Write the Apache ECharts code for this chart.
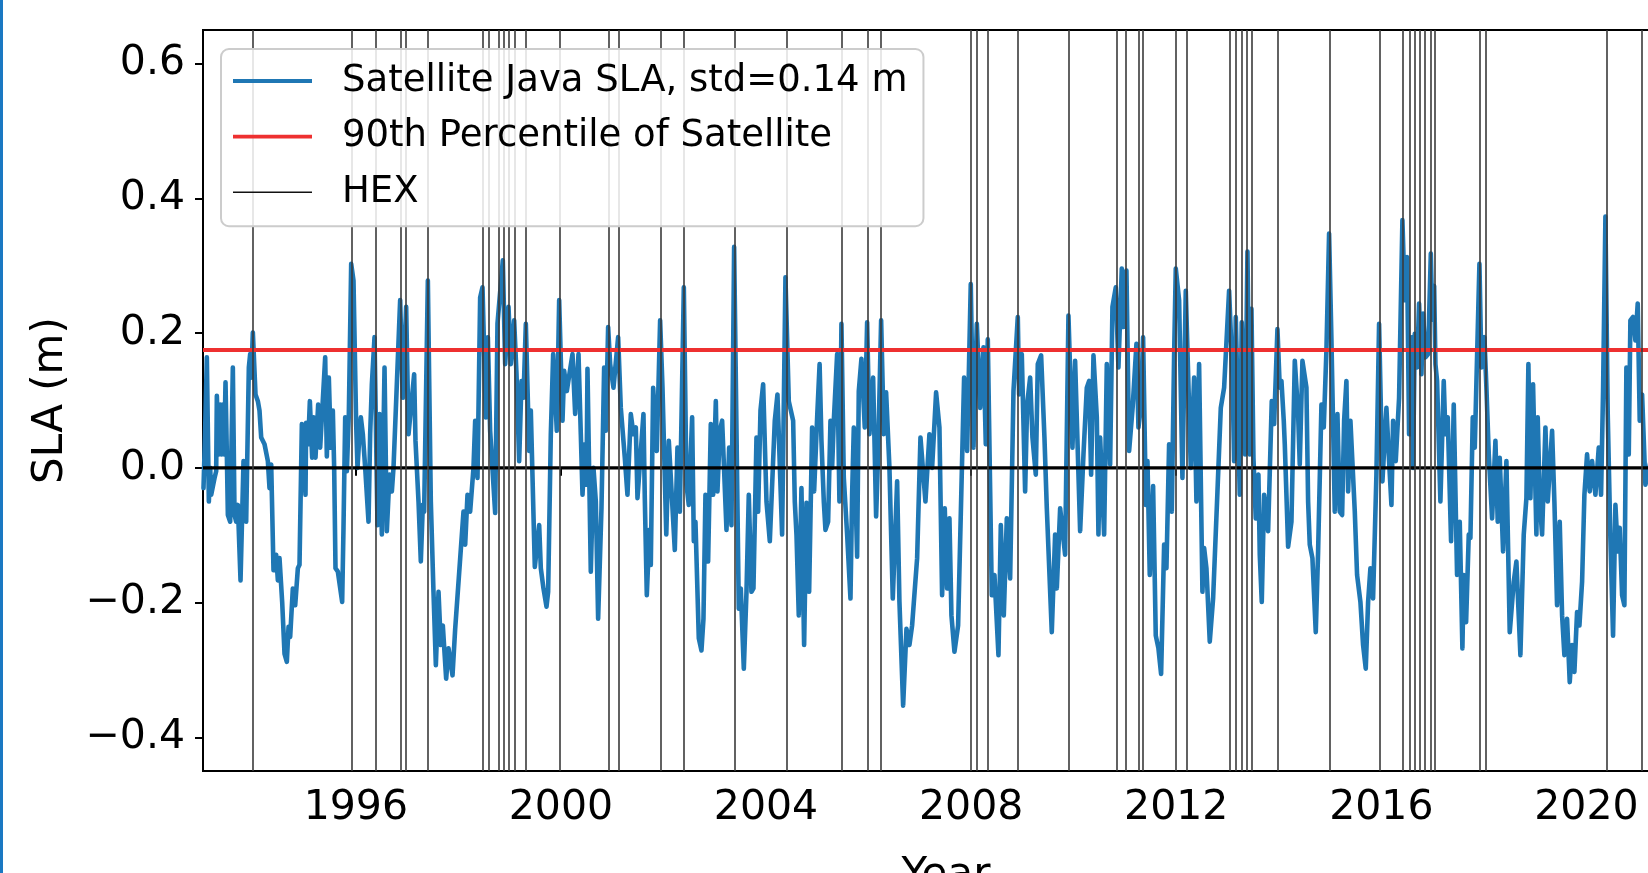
<!DOCTYPE html>
<html><head><meta charset="utf-8">
<script src="https://cdn.jsdelivr.net/npm/echarts@6/dist/echarts.min.js"></script>
<style>html,body{margin:0;padding:0;background:#fff;overflow:hidden}#c{width:1648px;height:873px}</style>
</head><body><div id="c"></div>
<script>
// Satellite Java SLA (m) vs decimal year
const slaPoints = [
[1993.030,-0.030],[1993.060,0.050],[1993.095,0.164],[1993.134,-0.050],[1993.160,0.000],[1993.180,-0.040],[1993.245,-0.015],[1993.277,-0.005],[1993.290,0.107],[1993.329,0.020],
[1993.355,0.094],[1993.381,0.020],[1993.407,0.094],[1993.433,0.020],[1993.459,0.127],[1993.485,0.020],[1993.505,-0.070],[1993.550,-0.080],[1993.602,0.149],[1993.635,-0.070],
[1993.667,-0.080],[1993.700,-0.055],[1993.752,-0.167],[1993.810,0.010],[1993.862,-0.080],[1993.882,0.010],[1993.914,0.149],[1993.940,0.169],[1993.960,0.134],[1993.992,0.201],
[1994.044,0.109],[1994.090,0.099],[1994.122,0.085],[1994.155,0.045],[1994.220,0.035],[1994.285,0.010],[1994.317,-0.030],[1994.350,0.005],[1994.395,-0.152],[1994.447,-0.129],
[1994.480,-0.167],[1994.512,-0.134],[1994.564,-0.199],[1994.610,-0.276],[1994.655,-0.288],[1994.688,-0.236],[1994.720,-0.251],[1994.772,-0.179],[1994.818,-0.204],[1994.870,-0.149],
[1994.902,-0.144],[1994.948,0.065],[1995.019,-0.040],[1995.032,0.067],[1995.071,0.035],[1995.104,0.099],[1995.149,0.015],[1995.175,0.075],[1995.214,0.015],[1995.266,0.094],
[1995.305,0.030],[1995.403,0.164],[1995.435,0.017],[1995.474,0.134],[1995.513,0.030],[1995.552,0.085],[1995.578,0.000],[1995.604,-0.149],[1995.650,-0.154],[1995.734,-0.199],
[1995.760,-0.089],[1995.793,0.075],[1995.825,-0.005],[1995.864,0.080],[1995.910,0.303],[1995.955,0.278],[1996.007,0.065],[1996.033,0.000],[1996.072,0.050],[1996.098,0.075],
[1996.137,0.050],[1996.183,0.000],[1996.248,-0.080],[1996.280,0.050],[1996.313,0.124],[1996.365,0.194],[1996.423,-0.085],[1996.462,0.080],[1996.508,-0.099],[1996.560,0.149],
[1996.605,-0.094],[1996.657,-0.010],[1996.703,-0.035],[1996.735,0.000],[1996.787,0.099],[1996.865,0.249],[1996.917,0.104],[1996.982,0.239],[1997.028,0.050],[1997.138,0.139],
[1997.164,0.040],[1997.223,-0.050],[1997.268,-0.139],[1997.307,-0.055],[1997.333,-0.065],[1997.405,0.278],[1997.463,-0.050],[1997.515,-0.184],[1997.561,-0.293],[1997.613,-0.184],
[1997.658,-0.263],[1997.697,-0.234],[1997.762,-0.313],[1997.808,-0.268],[1997.886,-0.308],[1997.938,-0.239],[1998.022,-0.149],[1998.100,-0.065],[1998.133,-0.114],[1998.178,-0.040],
[1998.230,-0.065],[1998.295,0.000],[1998.328,0.070],[1998.373,-0.015],[1998.425,0.253],[1998.471,0.268],[1998.536,0.075],[1998.575,0.194],[1998.620,0.055],[1998.718,-0.067],
[1998.763,0.214],[1998.867,0.308],[1998.913,0.154],[1998.978,0.239],[1999.023,0.154],[1999.088,0.219],[1999.134,0.139],[1999.186,0.010],[1999.231,0.129],[1999.270,0.104],
[1999.316,0.214],[1999.381,0.025],[1999.413,0.085],[1999.491,-0.147],[1999.576,-0.085],[1999.608,-0.149],[1999.660,-0.179],[1999.719,-0.206],[1999.751,-0.184],[1999.803,0.050],
[1999.849,0.169],[1999.920,0.055],[1999.966,0.249],[2000.031,0.070],[2000.063,0.144],[2000.115,0.114],[2000.226,0.169],[2000.278,0.080],[2000.343,0.169],[2000.388,0.050],
[2000.421,-0.040],[2000.466,0.035],[2000.499,-0.025],[2000.518,0.147],[2000.583,-0.154],[2000.635,0.000],[2000.681,-0.050],[2000.726,-0.224],[2000.791,-0.060],[2000.843,0.149],
[2000.876,0.055],[2000.921,0.209],[2000.960,0.154],[2001.025,0.119],[2001.116,0.194],[2001.168,0.089],[2001.246,0.015],[2001.298,-0.040],[2001.363,0.080],[2001.415,0.050],
[2001.461,0.060],[2001.493,-0.045],[2001.610,0.080],[2001.636,-0.045],[2001.675,-0.189],[2001.727,-0.092],[2001.753,-0.144],[2001.799,0.119],[2001.870,0.025],[2001.935,0.219],
[2001.981,0.119],[2002.055,-0.099],[2002.104,0.040],[2002.221,-0.122],[2002.273,0.030],[2002.319,-0.065],[2002.397,0.268],[2002.449,-0.025],[2002.494,-0.055],[2002.559,0.075],
[2002.592,-0.109],[2002.624,-0.080],[2002.689,-0.253],[2002.741,-0.271],[2002.780,-0.224],[2002.819,-0.040],[2002.871,-0.139],[2002.923,0.065],[2002.969,-0.040],[2003.021,0.099],
[2003.053,-0.035],[2003.099,0.055],[2003.144,0.070],[2003.229,-0.092],[2003.281,0.030],[2003.326,-0.085],[2003.378,0.328],[2003.469,-0.209],[2003.508,-0.179],[2003.567,-0.298],
[2003.619,-0.184],[2003.664,-0.040],[2003.716,-0.184],[2003.755,-0.179],[2003.814,0.045],[2003.846,-0.065],[2003.892,0.085],[2003.944,0.124],[2004.009,-0.050],[2004.074,-0.109],
[2004.171,0.070],[2004.223,0.109],[2004.314,-0.099],[2004.379,0.283],[2004.444,0.099],[2004.529,0.070],[2004.561,-0.050],[2004.594,-0.099],[2004.639,-0.219],[2004.691,-0.030],
[2004.743,-0.263],[2004.789,-0.052],[2004.841,-0.184],[2004.899,0.060],[2004.938,-0.035],[2005.000,0.080],[2005.045,0.154],[2005.081,0.040],[2005.127,-0.050],[2005.159,-0.092],
[2005.211,-0.080],[2005.257,0.070],[2005.289,0.000],[2005.322,0.070],[2005.387,0.169],[2005.432,-0.050],[2005.471,0.214],[2005.517,-0.015],[2005.582,-0.099],[2005.647,-0.194],
[2005.679,-0.040],[2005.712,0.060],[2005.777,-0.132],[2005.809,0.114],[2005.861,0.162],[2005.926,0.060],[2005.972,0.216],[2006.017,0.050],[2006.089,0.134],[2006.147,-0.072],
[2006.186,0.020],[2006.245,0.219],[2006.297,0.050],[2006.342,0.112],[2006.407,0.000],[2006.472,-0.194],[2006.557,-0.020],[2006.602,-0.199],[2006.674,-0.353],[2006.739,-0.239],
[2006.797,-0.263],[2006.849,-0.234],[2006.947,-0.134],[2007.012,0.045],[2007.109,-0.050],[2007.187,0.050],[2007.239,0.000],[2007.317,0.112],[2007.382,0.060],[2007.434,-0.189],
[2007.486,-0.060],[2007.532,-0.179],[2007.577,-0.075],[2007.616,-0.219],[2007.675,-0.273],[2007.746,-0.234],[2007.863,0.134],[2007.922,0.025],[2007.993,0.273],[2008.046,0.030],
[2008.111,0.214],[2008.176,0.089],[2008.241,0.179],[2008.286,0.035],[2008.325,0.191],[2008.403,-0.189],[2008.455,-0.159],[2008.533,-0.278],[2008.579,-0.085],[2008.637,-0.219],
[2008.696,-0.075],[2008.761,-0.164],[2008.826,0.114],[2008.910,0.224],[2008.936,0.109],[2008.988,0.169],[2009.053,-0.035],[2009.092,0.094],[2009.151,0.134],[2009.196,0.045],
[2009.261,-0.010],[2009.300,0.154],[2009.365,0.167],[2009.430,0.045],[2009.476,-0.060],[2009.573,-0.244],[2009.638,-0.099],[2009.671,-0.179],[2009.736,-0.060],[2009.833,-0.129],
[2009.898,0.226],[2009.976,0.030],[2010.028,0.159],[2010.126,-0.094],[2010.191,0.020],[2010.256,0.119],[2010.301,0.129],[2010.340,-0.010],[2010.386,0.167],[2010.451,0.075],
[2010.483,-0.099],[2010.516,0.045],[2010.594,-0.099],[2010.646,0.154],[2010.711,0.005],[2010.756,0.239],[2010.821,0.268],[2010.873,0.149],[2010.938,0.296],[2010.971,0.209],
[2011.029,0.293],[2011.081,0.025],[2011.150,0.090],[2011.224,0.184],[2011.263,0.060],[2011.309,0.089],[2011.354,0.194],[2011.393,0.015],[2011.406,-0.055],[2011.439,0.010],
[2011.484,-0.159],[2011.549,-0.027],[2011.601,-0.249],[2011.653,-0.268],[2011.705,-0.306],[2011.764,-0.114],[2011.809,-0.149],[2011.861,0.035],[2011.913,-0.065],[2011.958,0.164],
[2011.991,0.296],[2012.056,0.249],[2012.121,-0.015],[2012.186,0.263],[2012.284,0.000],[2012.349,0.134],[2012.394,-0.050],[2012.446,0.154],[2012.511,-0.184],[2012.544,-0.119],
[2012.589,-0.149],[2012.654,-0.258],[2012.719,-0.194],[2012.804,-0.035],[2012.869,0.089],[2012.934,0.119],[2013.031,0.263],[2013.096,0.139],[2013.129,0.010],[2013.161,0.224],
[2013.239,-0.040],[2013.278,0.216],[2013.343,0.020],[2013.389,0.321],[2013.434,0.020],[2013.467,0.236],[2013.506,0.015],[2013.551,-0.075],[2013.603,-0.010],[2013.629,-0.129],
[2013.668,-0.199],[2013.714,-0.040],[2013.792,-0.094],[2013.863,0.099],[2013.909,0.065],[2013.974,0.206],[2014.019,0.119],[2014.052,0.129],[2014.097,0.070],[2014.117,0.035],
[2014.182,-0.117],[2014.247,-0.080],[2014.312,0.159],[2014.377,0.080],[2014.409,0.005],[2014.461,0.159],[2014.539,0.119],[2014.572,-0.050],[2014.604,-0.114],[2014.656,-0.134],
[2014.721,-0.244],[2014.767,-0.124],[2014.832,0.094],[2014.877,0.060],[2014.929,0.174],[2014.981,0.348],[2015.027,0.189],[2015.092,-0.065],[2015.144,0.080],[2015.189,-0.065],
[2015.235,-0.070],[2015.274,0.070],[2015.319,0.129],[2015.352,-0.035],[2015.397,0.070],[2015.482,-0.065],[2015.527,-0.159],[2015.592,-0.199],[2015.644,-0.263],[2015.696,-0.298],
[2015.742,-0.199],[2015.787,-0.149],[2015.839,-0.194],[2015.904,-0.010],[2015.956,0.214],[2016.021,-0.020],[2016.099,0.089],[2016.151,0.010],[2016.197,-0.055],[2016.229,0.070],
[2016.281,0.010],[2016.346,0.104],[2016.411,0.368],[2016.457,0.249],[2016.502,0.313],[2016.541,0.050],[2016.587,0.194],[2016.619,0.000],[2016.652,0.199],[2016.697,0.149],
[2016.736,0.244],[2016.782,0.139],[2016.814,0.229],[2016.860,0.164],[2016.912,0.169],[2016.965,0.318],[2016.995,0.220],[2017.030,0.270],[2017.055,0.154],[2017.087,0.129],
[2017.152,-0.050],[2017.217,0.129],[2017.250,0.050],[2017.295,0.075],[2017.360,-0.109],[2017.412,0.094],[2017.477,-0.159],[2017.529,-0.080],[2017.581,-0.268],[2017.607,-0.159],
[2017.653,-0.229],[2017.705,-0.099],[2017.737,-0.104],[2017.783,0.075],[2017.822,0.030],[2017.913,0.303],[2017.952,0.149],[2018.010,0.194],[2018.049,0.119],[2018.095,0.020],
[2018.160,-0.075],[2018.225,0.040],[2018.270,-0.080],[2018.309,0.015],[2018.374,-0.124],[2018.439,0.010],[2018.504,-0.244],[2018.582,-0.169],[2018.634,-0.139],[2018.712,-0.278],
[2018.777,-0.099],[2018.829,-0.045],[2018.868,0.154],[2018.907,-0.045],[2018.959,0.124],[2019.024,-0.099],[2019.050,0.075],[2019.089,-0.050],[2019.135,-0.099],[2019.200,0.060],
[2019.245,-0.050],[2019.330,0.055],[2019.375,-0.050],[2019.427,-0.204],[2019.479,-0.080],[2019.525,-0.219],[2019.570,-0.278],[2019.622,-0.224],[2019.674,-0.318],[2019.720,-0.263],
[2019.765,-0.303],[2019.817,-0.214],[2019.863,-0.234],[2019.915,-0.169],[2019.960,-0.040],[2020.012,0.020],[2020.064,-0.035],[2020.110,0.010],[2020.175,-0.040],[2020.240,0.030],
[2020.285,-0.040],[2020.324,0.114],[2020.370,0.373],[2020.415,0.080],[2020.467,-0.104],[2020.519,-0.249],[2020.565,-0.055],[2020.610,-0.124],[2020.649,-0.089],[2020.695,-0.189],
[2020.740,-0.204],[2020.779,0.149],[2020.825,0.020],[2020.857,0.219],[2020.909,0.224],[2020.955,0.189],[2021.000,0.244],[2021.039,0.070],[2021.085,0.109],[2021.150,-0.025],
[2021.250,0.010]
];
// Heat-extreme (HEX) event dates, decimal year
const hexYears = [1993.99,1995.92,1996.38,1996.87,1996.98,1997.40,1998.47,1998.59,1998.78,1998.88,1998.98,1999.10,1999.32,1999.97,2000.93,2001.12,2001.94,2002.40,2003.39,2004.40,
2005.48,2005.98,2006.24,2008.00,2008.11,2008.33,2008.91,2009.91,2010.84,2011.02,2011.26,2011.35,2011.99,2012.20,2013.04,2013.16,2013.28,2013.38,2013.47,2013.98,
2014.99,2015.96,2016.41,2016.55,2016.66,2016.75,2016.85,2016.96,2017.04,2017.92,2018.03,2020.39,2021.07];
const p90Value = 0.175;
const xTicks = [1996,2000,2004,2008,2012,2016,2020];
const yTicks = [-0.4,-0.2,0.0,0.2,0.4,0.6];
const xRange = [1993.02, 2022.0];
const yRange = [-0.45, 0.65];
const seriesNames = ['Satellite Java SLA, std=0.14 m','90th Percentile of Satellite','HEX'];

const FONT = 'DejaVu Sans';
const BLUE = '#1f77b4', RED = '#ee3030', HEXC = '#3a3a3a';
const fmtY = v => (v < -1e-9 ? '\u2212' : '') + Math.abs(v).toFixed(1);

const chart = echarts.init(document.getElementById('c'), null, {renderer:'canvas'});
chart.setOption({
  animation: false,
  backgroundColor: '#ffffff',
  textStyle: {fontFamily: FONT, color:'#000'},
  grid: {left: 203, top: 30, right: -41, bottom: 102, show: true, borderColor: '#000', borderWidth: 2,
         backgroundColor: 'transparent', containLabel: false, outerBoundsMode: 'none'},
  xAxis: {
    type: 'value', min: xRange[0], max: xRange[1],
    name: 'Year', nameLocation: 'middle', nameGap: 84,
    nameTextStyle: {fontSize: 42, color: '#000', fontFamily: FONT},
    axisLine: {show: false},
    axisTick: {show: true, customValues: xTicks, length: 8, lineStyle: {color:'#000', width: 2}},
    axisLabel: {customValues: xTicks, fontSize: 41, color:'#000', fontFamily: FONT, margin: 17, formatter: v => String(Math.round(v))},
    splitLine: {show: false}
  },
  yAxis: {
    type: 'value', min: yRange[0], max: yRange[1],
    name: 'SLA (m)', nameLocation: 'middle', nameGap: 131, nameRotate: 90,
    nameTextStyle: {fontSize: 42, color: '#000', fontFamily: FONT},
    axisLine: {show: false},
    axisTick: {show: true, customValues: yTicks, length: 8, lineStyle: {color:'#000', width: 2}},
    axisLabel: {customValues: yTicks, fontSize: 41, color:'#000', fontFamily: FONT, margin: 18, formatter: fmtY},
    splitLine: {show: false}
  },
  legend: {
    orient: 'vertical', left: 221, top: 49, z: 10, selectedMode: false,
    padding: [12, 16, 14, 12],
    backgroundColor: 'rgba(255,255,255,0.85)', borderColor: '#cccccc', borderWidth: 2, borderRadius: 8,
    itemWidth: 79, itemHeight: 14, itemGap: 15.6,
    itemStyle: {borderWidth: 0},
    textStyle: {fontSize: 37, color: '#000', fontFamily: FONT, lineHeight: 40, padding: [0,0,0,25]},
    data: [
      {name: seriesNames[0], icon: 'path://M0,0H79V4H0Z', itemStyle: {color: BLUE}},
      {name: seriesNames[1], icon: 'path://M0,0H79V3.8H0Z', itemStyle: {color: RED}},
      {name: seriesNames[2], icon: 'path://M0,0H79V1.6H0Z', itemStyle: {color: '#111'}}
    ]
  },
  series: [
    {name: seriesNames[0], type: 'line', data: slaPoints, symbol: 'none', showSymbol: false, silent: true, z: 2,
     lineStyle: {color: BLUE, width: 4.6, join: 'round', cap: 'round'}, itemStyle: {color: BLUE}},
    {name: seriesNames[1], type: 'line', data: [[xRange[0], p90Value], [xRange[1], p90Value]], symbol: 'none', silent: true, z: 3,
     lineStyle: {color: RED, width: 3.8}, itemStyle: {color: RED}},
    {name: seriesNames[2], type: 'line', data: [], symbol: 'none', silent: true, z: 3,
     lineStyle: {color: HEXC, width: 1.6}, itemStyle: {color: HEXC},
     markLine: {silent: true, animation: false, symbol: ['none','none'], label: {show: false},
       lineStyle: {color: HEXC, width: 1.6, type: 'solid'}, emphasis: {disabled: true},
       data: hexYears.map(x => ({xAxis: x}))}},
    {name: 'zero', type: 'line', data: [[xRange[0], 0], [xRange[1], 0]], symbol: 'none', silent: true, z: 3,
     lineStyle: {color: '#000', width: 3.2}, itemStyle: {color: '#000'}}
  ],
  graphic: [{type: 'rect', left: 0, top: 0, z: 100, shape: {width: 3, height: 873}, style: {fill: '#1a78c2'}}]
});
</script></body></html>
